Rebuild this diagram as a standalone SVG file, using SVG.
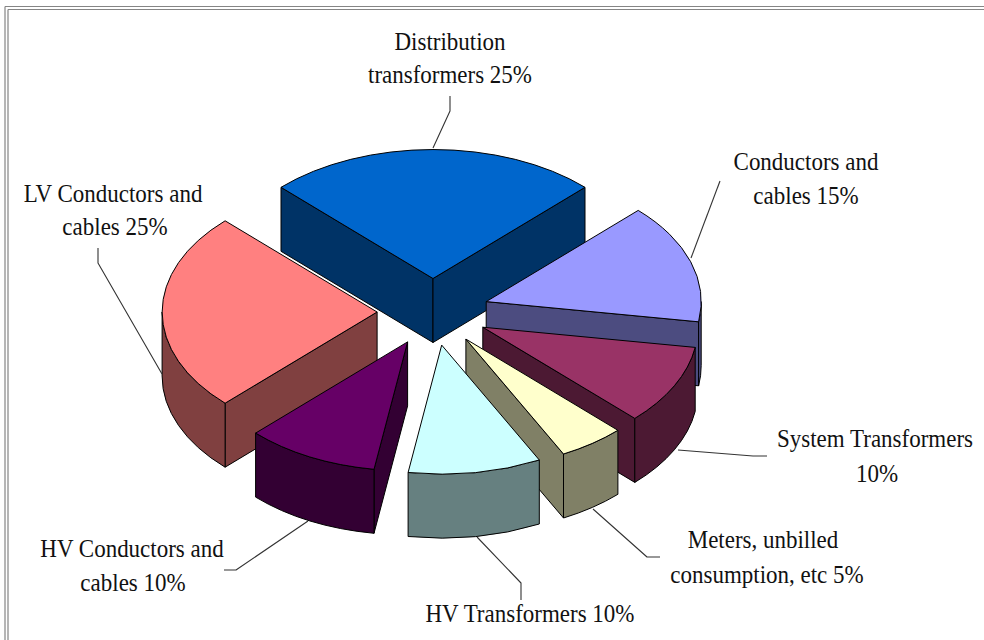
<svg xmlns="http://www.w3.org/2000/svg" width="984" height="640" viewBox="0 0 984 640">
  <style>
    .face { stroke: #000; stroke-width: 1; stroke-linejoin: round; }
    .lbl { font-family: "Liberation Serif", "Times New Roman", serif; font-size: 23px; fill: #111; text-anchor: middle; }
    .lead { fill: none; stroke: #333; stroke-width: 1.1; stroke-linejoin: round; }
    .frame { stroke: #858585; stroke-width: 1.2; fill: none; }
  </style>

  <rect x="0" y="0" width="984" height="640" fill="#ffffff"/>

  <!-- page frame (top and left edges) -->
  <g id="frame">
    <line class="frame" x1="5" y1="6.5" x2="984" y2="6.5"/>
    <line class="frame" x1="8" y1="9.5" x2="984" y2="9.5"/>
    <line class="frame" x1="5" y1="6.5" x2="5" y2="640"/>
    <line class="frame" x1="8" y1="9.5" x2="8" y2="640"/>
  </g>

  <!-- exploded 3D pie: ellipse rx 215, ry 129, depth 64; drawn back to front.
       Labels are stretched slightly in height to match the tall serif lettering. -->
  <g id="slice-distribution-transformers">
    <path class="face" fill="#003366" d="M433,278.5 L281,187.3 L281,251.3 L433,342.5 Z"/>
    <path class="face" fill="#003366" d="M433,278.5 L585,187.3 L585,251.3 L433,342.5 Z"/>
    <path class="face" fill="#0066CC" d="M433,278.5 L281,187.3 A215,129 0 0 1 585,187.3 Z"/>
    <text class="lbl" transform="translate(450,50) scale(1,1.1)">Distribution</text>
    <text class="lbl" transform="translate(450,83) scale(1,1.1)">transformers 25%</text>
  </g>

  <g id="slice-conductors-cables">
    <path class="face" fill="#4C4C80" d="M486.2,301.6 L698.6,321.8 L698.6,385.8 L486.2,365.6 Z"/>
    <path class="face" fill="#4C4C80" d="M701.2,301.6 A215,129 0 0 1 698.6,321.8 L698.6,385.8 A215,129 0 0 0 701.2,365.6 Z"/>
    <path class="face" fill="#9999FF" d="M486.2,301.6 L638.2,210.4 A215,129 0 0 1 698.6,321.8 Z"/>
    <text class="lbl" transform="translate(806,170) scale(1,1.1)">Conductors and</text>
    <text class="lbl" transform="translate(806,204) scale(1,1.1)">cables 15%</text>
  </g>

  <g id="slice-lv-conductors-cables">
    <path class="face" fill="#804040" d="M377.1,312 L225.1,403.2 L225.1,467.2 L377.1,376 Z"/>
    <path class="face" fill="#804040" d="M225.1,403.2 A215,129 0 0 1 162.1,312 L162.1,376 A215,129 0 0 0 225.1,467.2 Z"/>
    <path class="face" fill="#FF8080" d="M377.1,312 L225.1,403.2 A215,129 0 0 1 225.1,220.8 Z"/>
    <text class="lbl" transform="translate(113,202) scale(1,1.1)">LV Conductors and</text>
    <text class="lbl" transform="translate(115,235) scale(1,1.1)">cables 25%</text>
  </g>

  <g id="slice-system-transformers">
    <path class="face" fill="#4C1933" d="M482.8,327.2 L634.8,418.4 L634.8,482.4 L482.8,391.2 Z"/>
    <path class="face" fill="#4C1933" d="M695.2,347.4 A215,129 0 0 1 634.8,418.4 L634.8,482.4 A215,129 0 0 0 695.2,411.4 Z"/>
    <path class="face" fill="#993366" d="M482.8,327.2 L695.2,347.4 A215,129 0 0 1 634.8,418.4 Z"/>
    <text class="lbl" transform="translate(875,447) scale(1,1.1)">System Transformers</text>
    <text class="lbl" transform="translate(877,482) scale(1,1.1)">10%</text>
  </g>

  <g id="slice-meters-unbilled">
    <path class="face" fill="#808066" d="M465.9,339.1 L563.5,454 L563.5,518 L465.9,403.1 Z"/>
    <path class="face" fill="#808066" d="M617.9,430.3 A215,129 0 0 1 563.5,454 L563.5,518 A215,129 0 0 0 617.9,494.3 Z"/>
    <path class="face" fill="#FFFFCC" d="M465.9,339.1 L617.9,430.3 A215,129 0 0 1 563.5,454 Z"/>
    <text class="lbl" transform="translate(763,548) scale(1,1.1)">Meters, unbilled</text>
    <text class="lbl" transform="translate(767,583) scale(1,1.1)">consumption, etc 5%</text>
  </g>

  <g id="slice-hv-conductors-cables">
    <path class="face" fill="#330033" d="M407.6,341.9 L374,469.3 L374,533.3 L407.6,405.9 Z"/>
    <path class="face" fill="#330033" d="M374,469.3 A215,129 0 0 1 255.6,433.1 L255.6,497.1 A215,129 0 0 0 374,533.3 Z"/>
    <path class="face" fill="#660066" d="M407.6,341.9 L374,469.3 A215,129 0 0 1 255.6,433.1 Z"/>
    <text class="lbl" transform="translate(132,557) scale(1,1.1)">HV Conductors and</text>
    <text class="lbl" transform="translate(133,591) scale(1,1.1)">cables 10%</text>
  </g>

  <g id="slice-hv-transformers">
    <path class="face" fill="#668080" d="M539.3,460 A215,129 0 0 1 408.1,472.5 L408.1,536.5 A215,129 0 0 0 539.3,524 Z"/>
    <path class="face" fill="#CCFFFF" d="M441.7,345.1 L539.3,460 A215,129 0 0 1 408.1,472.5 Z"/>
    <text class="lbl" transform="translate(530,622) scale(1,1.1)">HV Transformers 10%</text>
  </g>

  <!-- label leader lines -->
  <g id="connectors">
    <polyline class="lead" points="450,96 450,111 433,148"/>
    <polyline class="lead" points="98,248 98,263 162,374"/>
    <polyline class="lead" points="720,181 691,258"/>
    <polyline class="lead" points="678,450 753,456 767,456"/>
    <polyline class="lead" points="593,509 647,557 660,557"/>
    <polyline class="lead" points="477,537 521,583 521,600"/>
    <polyline class="lead" points="308,521 236,570 224,570"/>
  </g>
</svg>
